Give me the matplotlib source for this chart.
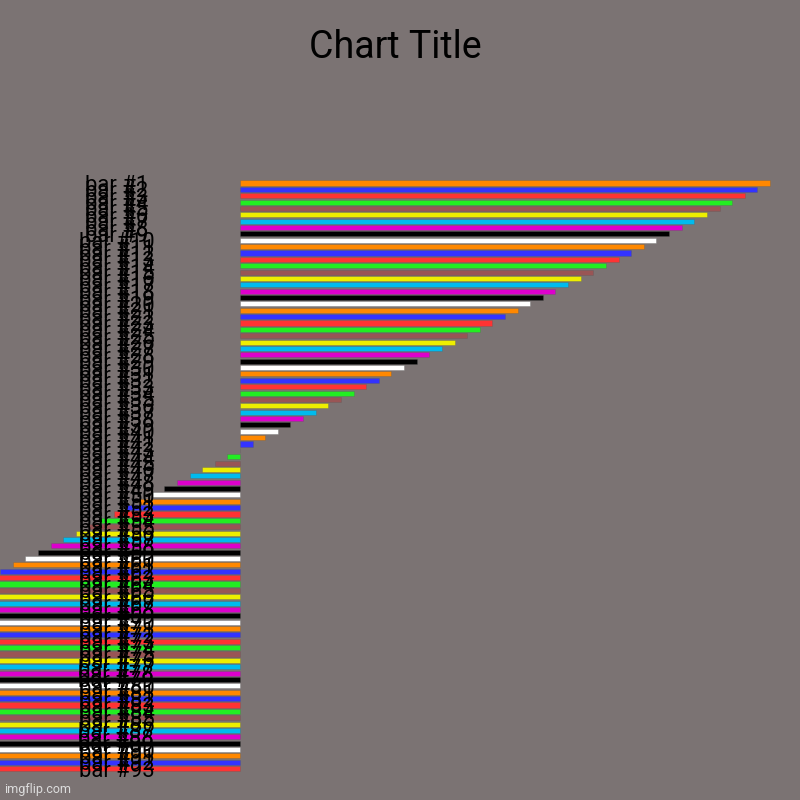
import matplotlib
matplotlib.use("Agg")
import matplotlib.pyplot as plt

labels = ["bar #%d" % i for i in range(1, 94)]
values = [42, 41, 40, 39, 38, 37, 36, 35, 34, 33,
          32, 31, 30, 29, 28, 27, 26, 25, 24, 23,
          22, 21, 20, 19, 18, 17, 16, 15, 14, 13,
          12, 11, 10, 9, 8, 7, 6, 5, 4, 3,
          2, 1, 0, -1, -2, -3, -4, -5, -6, -7,
          -8, -9, -10, -11, -12, -13, -14, -15, -16, -17,
          -18, -19, -20, -21, -22, -23, -24, -25, -26, -27,
          -28, -29, -30, -31, -32, -33, -34, -35, -36, -37,
          -38, -39, -40, -41, -42, -43, -44, -45, -46, -47,
          -48, -49, -50]
palette = ["#FF8800", "#3333FF", "#FF3333", "#22EE22", "#995555",
           "#EEEE00", "#00BBEE", "#DD00CC", "#000000", "#FFFFFF"]
colors = [palette[i % len(palette)] for i in range(len(values))]

bg = "#7B7373"
plt.rcParams['font.family'] = ['Roboto', 'DejaVu Sans']

fig = plt.figure(figsize=(8, 8), dpi=100, facecolor=bg)
ax = fig.add_axes([240/800, 1 - 771.8/800, 530/800, 592/800])
ax.set_facecolor(bg)

y = list(range(len(values)))
bars = ax.barh(y, values, height=0.8, color=colors,
               edgecolor=(0.35, 0.35, 0.35, 0.35), linewidth=0.6)
for b in bars:
    b.set_clip_on(False)

ax.set_xlim(0, 42)
ax.set_ylim(len(values) - 0.5, -0.5)
ax.set_yticks(y)
ax.set_yticklabels(labels, fontsize=15.8, color="black", ha="center")
ax.tick_params(axis='y', length=0, pad=89)
ax.set_xticks([])
for s in ax.spines.values():
    s.set_visible(False)

fig.text(395.5/800, 1 - 47/800, "Chart Title", ha="center", va="center",
         fontsize=27, color="black")
fig.text(4/800, 1 - 790/800, "imgflip.com", ha="left", va="center",
         fontsize=9, color="#DDDDDD")

fig.savefig("out.png", dpi=100, facecolor=bg)
